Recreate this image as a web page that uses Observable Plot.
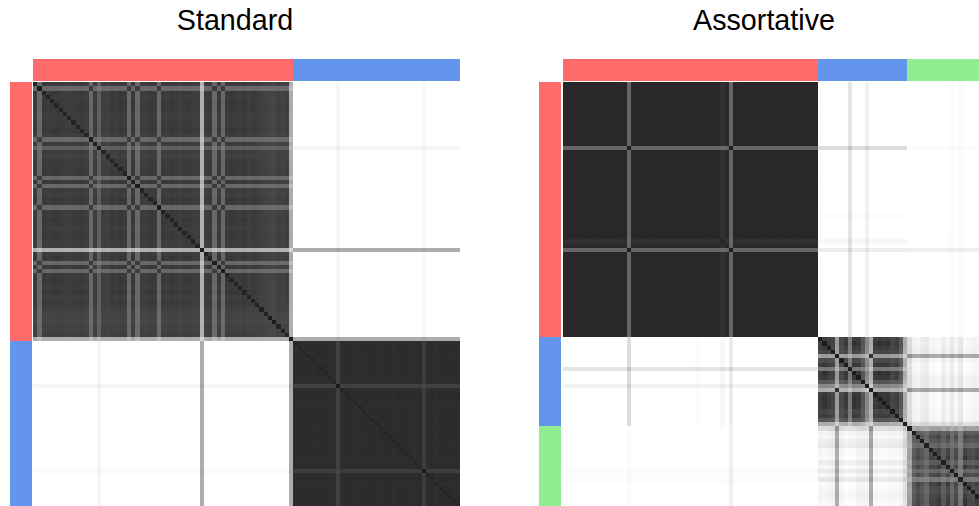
<!DOCTYPE html>
<html><head><meta charset="utf-8">
<script src="https://cdn.jsdelivr.net/npm/d3@7"></script>
<script src="https://cdn.jsdelivr.net/npm/@observablehq/plot@0.6"></script>
<style>
html,body{margin:0;padding:0;background:#fff;overflow:hidden}
#page{position:relative;width:979px;height:506px;overflow:hidden;font-family:"Liberation Sans",Arial,sans-serif}
.title{position:absolute;top:3px;font-size:28.7px;line-height:34px;color:#000;text-align:center;transform:translateX(-50%);white-space:nowrap}
.panel{position:absolute;top:0}
.panel svg{display:block;max-width:none;background:transparent}
</style></head><body><div id="page"></div>
<script>
const groupColors = ["#FF6A6A", "#6495ED", "#90EE90"];
const panelTitles = ["Standard", "Assortative"];

// Standard panel: 61 + 39 items. Per-item lift (grey levels above the block's base).
const stdGroups = [61, 39];
const stdBase = [50, 42];
const stdDiag = [35, 38];
const stdStripeDiag = [28, 26];
const stdCross = [60, 42];
const stdLift = [
  6,52,4,8,5,3,6,8,10,8, 6,4,10,52,8,42,10,12,6,8,
  4,6,52,4,52,8,10,4,6,52, 5,8,4,6,10,6,4,8,10,124,
  8,4,52,5,52,6,4,6,8,4, 10,6,8,12,14,16,18,12,14,10,
  120,
  2,0,2,1,3,0,2,1,3,2, 22,3,1,0,2,3,1,2,0,3,
  1,2,0,3,1,2,0,2,3,1, 18,2,0,3,1,2,0,2,1];
const stdFamilies = [[1,13,22,24,29,42,44]];
const stdLeakIdx = [15,39,60,71,91];
const stdLeakVal = [10,82,82,8,6];

// Assortative panel: 60 + 21 + 19 items.
const astGroups = [60, 21, 19];
const astBase = [40, 48, 50];
const astDiag = [40, 28, 30];
const astStripeDiag = [30, 28, 30];
const astCross = [32, 50, 50];
const astLift = [
  0,0,1,0,1,0,0,1,0,0, 1,0,0,1,0,62,0,1,0,0,
  1,0,0,1,0,0,0,1,0,0, 0,1,0,0,1,0,0,8,1,62,
  0,1,0,0,1,0,0,1,0,0, 0,1,0,0,1,0,0,1,0,0,
  12,0,12,20,105,24,8,70,0,8, 37,85,122,8,0,6,2,20,12,37,
  122,
  105,37,20,32,48,16,18,5,37,8, 48,20,64,0,20,24,12,0,2];
const astFamilies = [[15,39],[64,72]];
// to red, to blue, to green
const astLeakToRedIdx = [67,71,91,93];
const astLeakToRedVal = [26,13,3,3];
const astLeakToBlueIdx = [15,39,37,31,
  81,82,83,84,85,86,87,89,90,91,92,93,95,96,97,98,99];
const astLeakToBlueVal = [34,18,7,3,
  30,8,4,12,16,3,3,12,3,16,4,18,3,6,6,2,2];
const astLeakToGreenIdx = [15,39,37,
  60,61,62,63,64,65,67,68,69,70,71,72,73,74,75,76,77,78,79,80];
const astLeakToGreenVal = [4,16,1,
  6,4,8,10,80,6,2,2,8,10,8,80,4,2,2,4,6,4,8,28];

function leakTable(idx, val){ const t = new Map(); idx.forEach((d,k)=>t.set(d,val[k])); return t; }
function groupOf(sizes){ const g=[]; sizes.forEach((n,k)=>{ for(let i=0;i<n;i++) g.push(k); }); return g; }

function matrix(sizes, base, diag, stripeDiag, cross, lift, families, leaks){
  const group = groupOf(sizes), fam = new Map();
  families.forEach((f,k)=>f.forEach(d=>fam.set(d,k)));
  const cells = [];
  for(let j=0;j<group.length;j++) for(let i=0;i<group.length;i++){
    const g = group[i];
    let v;
    if(i===j) v = lift[i]>15 ? stripeDiag[g] : diag[g];
    else if(g===group[j]){
      const a=lift[i], b=lift[j];
      if(fam.has(i)&&fam.get(i)===fam.get(j)) v = cross[g];
      else v = base[g] + Math.max(a,b) + 0.35*Math.min(a,b);
    } else {
      v = 255 - (leaks[group[j]].get(i)||0) - (leaks[g].get(j)||0);
    }
    cells.push({i,j,i2:i+1,j2:j+1,v:Math.max(0,Math.min(255,v))});
  }
  return cells;
}

function spans(sizes){ let s=0; return sizes.map((n,k)=>{ const o={a:s,b:s+n,c:groupColors[k]}; s+=n; return o; }); }

function panel(opts){
  const {cells,sizes,left,width,xRange,xDomain,yDomain,topBar,sideBar} = opts;
  const sp = spans(sizes);
  const node = Plot.plot({
    width, height:506, margin:0,
    x:{domain:xDomain, range:xRange, axis:null},
    y:{domain:yDomain, range:[82,506], axis:null},
    color:{type:"linear", domain:[0,255], range:["#000000","#ffffff"], legend:false},
    marks:[
      Plot.rect(cells,{x1:"i",x2:"i2",y1:"j",y2:"j2",fill:"v",shapeRendering:"crispEdges"}),
      Plot.rect(sp,{x1:"a",x2:"b",y1:()=>topBar[0],y2:()=>topBar[1],fill:"c",shapeRendering:"crispEdges"}),
      Plot.rect(sp,{x1:()=>sideBar[0],x2:()=>sideBar[1],y1:"a",y2:"b",fill:"c",shapeRendering:"crispEdges"})
    ]
  });
  const d = document.createElement("div");
  d.className="panel"; d.style.left=left+"px"; d.appendChild(node);
  return d;
}

const page = document.getElementById("page");
const stdLeakAll = leakTable(stdLeakIdx,stdLeakVal);
page.appendChild(panel({
  cells: matrix(stdGroups,stdBase,stdDiag,stdStripeDiag,stdCross,stdLift,stdFamilies,[stdLeakAll,stdLeakAll]),
  sizes: stdGroups, left:0, width:490, xRange:[33,460], xDomain:[0,100], yDomain:[0,99.76],
  topBar:[-5.41,-0.24], sideBar:[-5.39,-0.24]
}));
page.appendChild(panel({
  cells: matrix(astGroups,astBase,astDiag,astStripeDiag,astCross,astLift,astFamilies,[
    leakTable(astLeakToRedIdx,astLeakToRedVal),
    leakTable(astLeakToBlueIdx,astLeakToBlueVal),
    leakTable(astLeakToGreenIdx,astLeakToGreenVal)]),
  sizes: astGroups, left:490, width:489, xRange:[73,489], xDomain:[0,97.88], yDomain:[0,99.76],
  topBar:[-5.41,-0.24], sideBar:[-5.63,-0.47]
}));
panelTitles.forEach((t,k)=>{
  const el=document.createElement("div"); el.className="title"; el.textContent=t;
  el.style.left=[235,764][k]+"px"; page.appendChild(el);
});
</script></body></html>
